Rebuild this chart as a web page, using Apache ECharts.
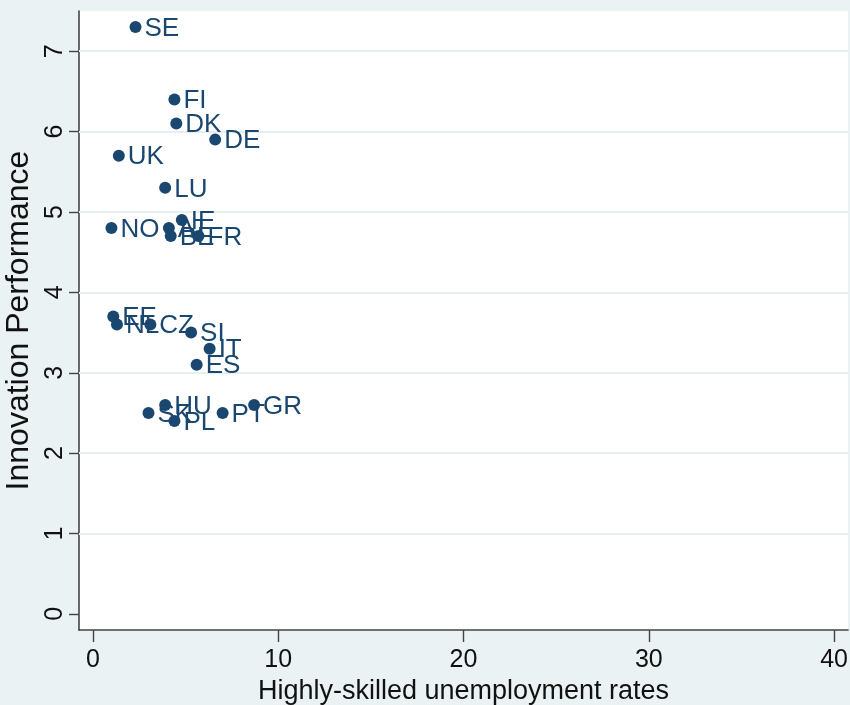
<!DOCTYPE html>
<html><head><meta charset="utf-8">
<script src="https://cdn.jsdelivr.net/npm/echarts@6/dist/echarts.min.js"></script>
<style>html,body{margin:0;padding:0;background:#eaf2f3}#c{width:850px;height:705px}</style>
</head><body><div id="c"></div>
<script>
const countries = ["SE","FI","DK","DE","UK","LU","NO","IE","AT","BE","FR","EE","NL","CZ","SI","IT","ES","SK","HU","PL","PT","GR"];
const unemployment = [2.3,4.4,4.5,6.6,1.4,3.9,1.0,4.8,4.1,4.2,5.7,1.1,1.3,3.1,5.3,6.3,5.6,3.0,3.9,4.4,7.0,8.7];
const innovation = [7.3,6.4,6.1,5.9,5.7,5.3,4.8,4.9,4.8,4.7,4.7,3.7,3.6,3.6,3.5,3.3,3.1,2.5,2.6,2.4,2.5,2.6];
const xTicks = [0,10,20,30,40];
const yTicks = [0,1,2,3,4,5,6,7];
const yGrid = [1,2,3,4,5,6,7];

const FONT = "'Liberation Sans',Arial,sans-serif";
const chart = echarts.init(document.getElementById('c'));
const pts = countries.map((c,i)=>[unemployment[i], innovation[i], c]);
chart.setOption({
  backgroundColor: '#eaf2f3',
  animation: false,
  grid: {left: 79, right: 2, top: 11, bottom: 75, outerBoundsMode: 'none', containLabel: false,
         show: true, backgroundColor: '#ffffff', borderWidth: 0},
  xAxis: {
    type: 'value', min: -0.75, max: 40.75,
    axisLine: {show: true, onZero: false, lineStyle: {color: '#444', width: 1.6}},
    axisTick: {show: true, customValues: xTicks, length: 12, lineStyle: {color: '#444', width: 1.4}},
    axisLabel: {customValues: xTicks, color: '#111', fontFamily: FONT, fontSize: 25, margin: 18},
    splitLine: {show: false},
    name: 'Highly-skilled unemployment rates', nameLocation: 'middle', nameGap: 43,
    nameTextStyle: {color: '#111', fontFamily: FONT, fontSize: 27}
  },
  yAxis: {
    type: 'value', min: -0.2, max: 7.5,
    axisLine: {show: true, onZero: false, lineStyle: {color: '#444', width: 1.6}},
    axisTick: {show: true, customValues: yTicks, length: 10, lineStyle: {color: '#444', width: 1.4}},
    axisLabel: {customValues: yTicks, rotate: 90, color: '#111', fontFamily: FONT, fontSize: 25, margin: 11},
    splitLine: {show: false},
    name: 'Innovation Performance', nameLocation: 'middle', nameGap: 35, nameRotate: 90,
    nameTextStyle: {color: '#111', fontFamily: FONT, fontSize: 32}
  },
  series: [{
    type: 'scatter',
    data: [],
    z: 1, zlevel: 0,
    markLine: {
      silent: true, symbol: ['none','none'], label: {show: false}, z: 1,
      lineStyle: {color: '#e8eff1', width: 2, type: 'solid'},
      data: yGrid.map(v => ({yAxis: v}))
    }
  }, {
    type: 'scatter',
    data: pts,
    symbol: 'circle', symbolSize: 12,
    itemStyle: {color: '#1a476f', opacity: 1},
    label: {show: true, position: 'right', distance: 3, offset: [0, 1.5], formatter: p => p.data[2],
      color: '#1a476f', fontFamily: FONT, fontSize: 26},
    z: 5
  }]
});
</script></body></html>
